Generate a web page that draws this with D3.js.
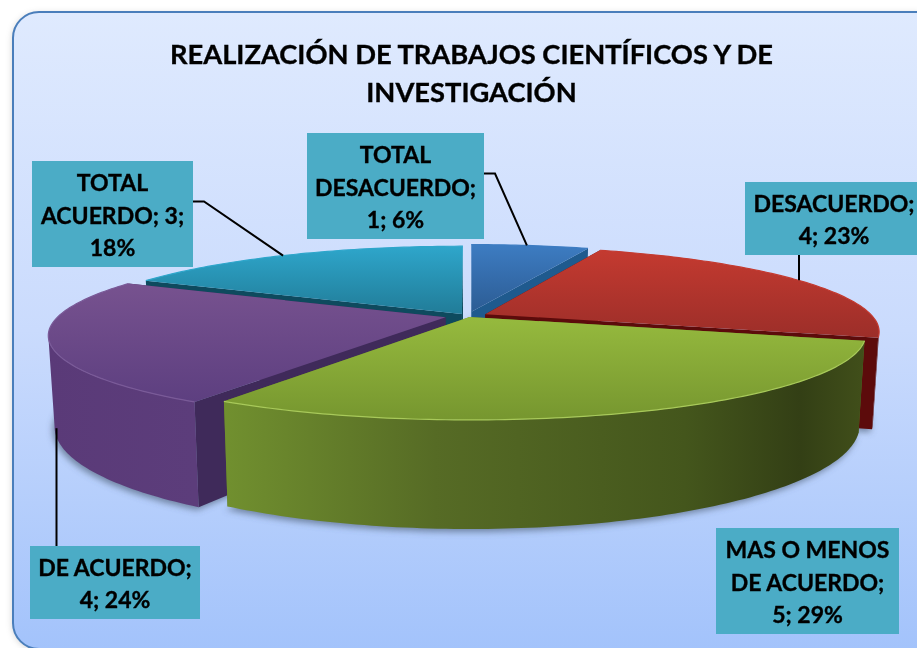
<!DOCTYPE html>
<html>
<head>
	<meta charset="utf-8">
	<title>Realización de trabajos científicos y de investigación</title>
	<script src="https://d3js.org/d3.v7.min.js"></script>
	<style>
		html, body { margin: 0; padding: 0; background: #fff; overflow: hidden; }
		text { font-family: Lato, "Open Sans", sans-serif; font-weight: 700; fill: #000; stroke: #000; stroke-width: 0.35px; text-anchor: middle; }
	</style>
</head>
<body>
	<svg width="917" height="648" id="chart"></svg>
<script>
	// data, clockwise from 12 o'clock
	var categories = ["TOTAL DESACUERDO", "DESACUERDO", "MAS O MENOS DE ACUERDO", "DE ACUERDO", "TOTAL ACUERDO"];
	var counts = [1, 4, 5, 4, 3];
	var percents = [6, 23, 29, 24, 18];
	var titleLines = ["REALIZACIÓN DE TRABAJOS CIENTÍFICOS Y DE", "INVESTIGACIÓN"];
	var labelLines = [
		["TOTAL", "DESACUERDO;", "1; 6%"],
		["DESACUERDO;", "4; 23%"],
		["MAS O MENOS", "DE ACUERDO;", "5; 29%"],
		["DE ACUERDO;", "4; 24%"],
		["TOTAL", "ACUERDO; 3;", "18%"]
	];

	// colours per slice
	var topColors = [["#3d7cc2", "#2c5c94"], ["#c43a30", "#9c2e29"], ["#96ba3e", "#76962f"], ["#77528f", "#5d3f80"], ["#2ea6cb", "#217c98"]];
	var rimColors = ["#3d7cc2", "#c43a30", "#a8c95a", "#7a5a98", "#2ea6cb"];
	var radialColors = ["#1f5a8e", "#5c0b0b", "#5a7325", "#3f2a5a", "#0e4a5e"];
	var wallStops = [
		[[0, "#24507f"], [1, "#24507f"]],
		[[0, "#5c0f0f"], [1, "#5c0f0f"]],
		[[0, "#71902f"], [0.33, "#566b25"], [0.72, "#44561c"], [0.9, "#333f15"], [1, "#414f1a"]],
		[[0, "#5a3a78"], [1, "#5c3d7b"]],
		[[0, "#1c6a82"], [1, "#1c6a82"]]
	];

	// layout of the labels, leaders run from box to the rim
	var boxes = [[307, 133, 484, 239], [745, 182, 917, 255], [716, 528, 899, 634], [30, 546, 200, 619], [32, 161, 193, 267]];
	var labelDx = [0, 3, 0, 0, 0];
	var leaders = [
		{ from: [484, 173.5], elbow: [495, 173.5], level: 0, angle: 10 },
		{ from: [799, 255], elbow: null, level: 0, angle: 63 },
		null,
		{ from: [56.5, 546], elbow: null, level: 1, angle: 257 },
		{ from: [193, 201.5], elbow: [204, 201.5], level: 0, angle: 327 }
	];

	// pseudo 3d pie parameters
	var cx = 468, cy = 316, R = 387;
	var tilt = 82, persp = 0.2, depth = 87, taper = 0.015;
	var explode = [0.055, 0.05, 0.012, 0.06, 0.03];

	var svg = d3.select("#chart");
	var defs = svg.append("defs");

	var bg = defs.append("linearGradient").attr("id", "bg").attr("x1", 0).attr("y1", 0).attr("x2", 0).attr("y2", 1);
	bg.append("stop").attr("offset", 0).attr("stop-color", "#dfeafe");
	bg.append("stop").attr("offset", 0.5).attr("stop-color", "#cadbfd");
	bg.append("stop").attr("offset", 1).attr("stop-color", "#a3c3fb");

	defs.append("filter").attr("id", "soft").attr("x", "-10%").attr("y", "-10%").attr("width", "120%").attr("height", "120%")
		.append("feGaussianBlur").attr("stdDeviation", 3);
	defs.append("filter").attr("id", "frameShadow").attr("x", "-5%").attr("y", "-5%").attr("width", "110%").attr("height", "110%")
		.append("feGaussianBlur").attr("stdDeviation", 3);

	svg.append("rect").attr("x", 12).attr("y", 13).attr("width", 930).attr("height", 637).attr("rx", 26)
		.attr("fill", "#888").attr("opacity", 0.35).attr("filter", "url(#frameShadow)");
	svg.append("rect").attr("x", 13).attr("y", 12).attr("width", 930).attr("height", 637).attr("rx", 26)
		.attr("fill", "url(#bg)").attr("stroke", "#4a7ebb").attr("stroke-width", 2);

	var pie = d3.pie().sort(null).value(function(d) { return d; });
	var arcs = pie(counts);
	var deg = 180 / Math.PI;

	// angle in degrees from the top, clockwise. r is fraction of radius, level 0 = top face, 1 = base
	function project(i, angle, r, level) {
		var a = angle / deg;
		var mid = (arcs[i].startAngle + arcs[i].endAngle) / 2;
		var X = r * Math.sin(a) + explode[i] * Math.sin(mid);
		var Y = -r * Math.cos(a) - explode[i] * Math.cos(mid);
		var s = 1 / (1 - persp * Y);
		var bx = 1 - taper * level;
		return [cx + X * R * s * bx, cy + Y * tilt * s + level * depth * s];
	}

	var line = d3.line();

	function rimAngles(i) {
		var a0 = arcs[i].startAngle * deg, a1 = arcs[i].endAngle * deg;
		return d3.range(a0, a1, 1).concat([a1]);
	}

	function rim(i, level) {
		return rimAngles(i).map(function(a) { return project(i, a, 1, level); });
	}

	// only the part of the rim that faces the viewer, x falls as the angle grows
	function facing(i, pts) {
		var top = rim(i, 0);
		return pts.filter(function(p, k) {
			var next = top[k + 1], prev = top[k - 1];
			return (next && next[0] < top[k][0]) || (prev && top[k][0] < prev[0]);
		});
	}

	// painter's order, back slices first
	var order = [4, 0, 1, 3, 2];

	// soft shadow on the floor
	var shadow = svg.append("g").attr("filter", "url(#soft)");
	order.forEach(function(i) {
		var pts = rim(i, 1);
		var apex = project(i, arcs[i].startAngle * deg, 0, 1);
		shadow.append("path")
			.attr("d", line(pts.concat([apex])) + "Z")
			.attr("transform", "translate(-2,3)")
			.attr("fill", "#54677f").attr("opacity", 0.7);
	});

	order.forEach(function(i) {
		var g = svg.append("g").attr("class", "slice");
		var a0 = arcs[i].startAngle * deg;
		var top = rim(i, 0), base = rim(i, 1);
		var apexTop = project(i, a0, 0, 0), apexBase = project(i, a0, 0, 1);

		// radial walls
		[0, top.length - 1].forEach(function(k) {
			g.append("path")
				.attr("d", line([apexTop, top[k], base[k], apexBase]) + "Z")
				.attr("fill", radialColors[i]);
		});

		// outer wall with horizontal shading
		var xs = d3.extent(top, function(p) { return p[0]; });
		var wg = defs.append("linearGradient").attr("id", "wall" + i)
			.attr("gradientUnits", "userSpaceOnUse")
			.attr("x1", xs[0]).attr("y1", 0).attr("x2", xs[1]).attr("y2", 0);
		wallStops[i].forEach(function(st) {
			wg.append("stop").attr("offset", st[0]).attr("stop-color", st[1]);
		});
		var frontTop = facing(i, top), frontBase = facing(i, base);
		if (frontTop.length > 1) {
			g.append("path")
				.attr("d", line(frontTop.concat(frontBase.slice().reverse())) + "Z")
				.attr("fill", "url(#wall" + i + ")");
		}

		// top face
		var tg = defs.append("linearGradient").attr("id", "top" + i)
			.attr("x1", 0).attr("y1", 0).attr("x2", 0).attr("y2", 1);
		tg.append("stop").attr("offset", 0).attr("stop-color", topColors[i][0]);
		tg.append("stop").attr("offset", 1).attr("stop-color", topColors[i][1]);
		g.append("path")
			.attr("d", line([apexTop].concat(top)) + "Z")
			.attr("fill", "url(#top" + i + ")");

		// light bevel along the rim
		g.append("path")
			.attr("d", line(top))
			.attr("fill", "none")
			.attr("stroke", rimColors[i])
			.attr("stroke-width", 1.2);
	});

	// leaders
	leaders.forEach(function(l, i) {
		if (!l) return;
		var pts = [l.from];
		if (l.elbow) pts.push(l.elbow);
		var end = project(i, l.angle, 1, l.level);
		if (!l.elbow) end = [l.from[0], end[1]];
		pts.push(end);
		svg.append("path").attr("d", line(pts)).attr("fill", "none").attr("stroke", "#000").attr("stroke-width", 2);
	});

	// data labels
	var labelStep = 32.4;
	boxes.forEach(function(b, i) {
		svg.append("rect")
			.attr("x", b[0]).attr("y", b[1])
			.attr("width", b[2] - b[0]).attr("height", b[3] - b[1])
			.attr("fill", "#4bacc6");
		var mx = (b[0] + b[2]) / 2 + labelDx[i], my = (b[1] + b[3]) / 2;
		var n = labelLines[i].length;
		labelLines[i].forEach(function(t, k) {
			svg.append("text")
				.attr("x", mx)
				.attr("y", my + (k - (n - 1) / 2) * labelStep + 9.5)
				.attr("font-size", 23)
				.text(t);
		});
	});

	// title
	titleLines.forEach(function(t, k) {
		svg.append("text")
			.attr("x", 471.5)
			.attr("y", 63.5 + k * 38)
			.attr("font-size", 27.3)
			.text(t);
	});
</script>
</body>
</html>
